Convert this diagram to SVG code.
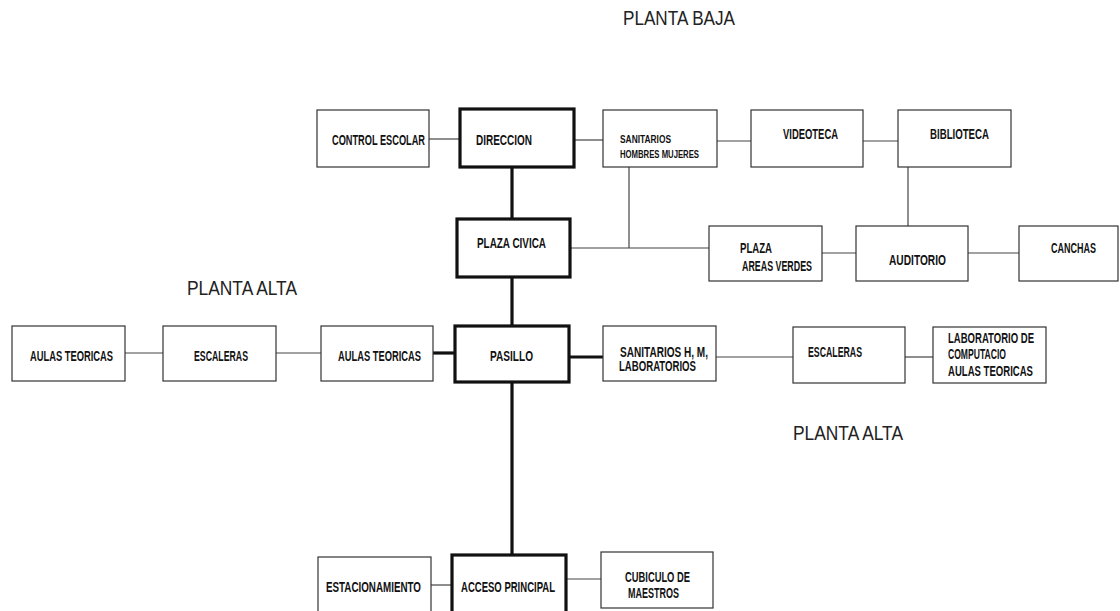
<svg xmlns="http://www.w3.org/2000/svg" width="1120" height="611" viewBox="0 0 1120 611">
<style>
.box{fill:#fff;stroke:#333;stroke-width:1.2}
.bold{fill:#fff;stroke:#111;stroke-width:3.2}
.ln{stroke:#444;stroke-width:1.2;fill:none}
.th{stroke:#111;stroke-width:3.2;fill:none}
.t{font-family:"Liberation Sans",Arial,sans-serif;font-size:14px;font-weight:bold;fill:#111}
.s{font-family:"Liberation Sans",Arial,sans-serif;font-size:10.5px;font-weight:bold;fill:#111}
.h{font-family:"Liberation Sans",Arial,sans-serif;font-size:21px;fill:#222}
</style>
<rect width="1120" height="611" fill="#fff"/>
<g id="titles">
<text class="h" x="623" y="25" textLength="112" lengthAdjust="spacingAndGlyphs">PLANTA BAJA</text>
<text class="h" x="187" y="295" textLength="110" lengthAdjust="spacingAndGlyphs">PLANTA ALTA</text>
<text class="h" x="793" y="440" textLength="110" lengthAdjust="spacingAndGlyphs">PLANTA ALTA</text>
</g>
<g id="connectors">
<line class="ln" x1="429" y1="139" x2="460" y2="139"/>
<line class="ln" x1="574" y1="140" x2="603" y2="140"/>
<line class="ln" x1="717" y1="141" x2="751" y2="141"/>
<line class="ln" x1="863" y1="141" x2="898" y2="141"/>
<line class="th" x1="512" y1="167" x2="512" y2="219"/>
<line class="ln" x1="629" y1="167" x2="629" y2="248"/>
<line class="ln" x1="570" y1="248" x2="709" y2="248"/>
<line class="ln" x1="908" y1="167" x2="908" y2="226"/>
<line class="ln" x1="822" y1="253" x2="856" y2="253"/>
<line class="ln" x1="968" y1="253" x2="1019" y2="253"/>
<line class="th" x1="512" y1="277" x2="512" y2="326"/>
<line class="ln" x1="125" y1="353" x2="163" y2="353"/>
<line class="ln" x1="276" y1="353" x2="321" y2="353"/>
<line class="th" x1="433" y1="353" x2="455" y2="353"/>
<line class="th" x1="569" y1="357" x2="603" y2="357"/>
<line class="ln" x1="716" y1="357" x2="793" y2="357"/>
<line class="ln" x1="905" y1="357" x2="933" y2="357"/>
<line class="th" x1="512" y1="382" x2="512" y2="555"/>
<line class="ln" x1="431" y1="585" x2="452" y2="585"/>
<line class="ln" x1="566" y1="579" x2="601" y2="579"/>
</g>
<g id="control-escolar"><rect class="box" x="317" y="110" width="112" height="57"/><text class="t" x="332" y="145" textLength="93" lengthAdjust="spacingAndGlyphs">CONTROL ESCOLAR</text></g>
<g id="direccion"><rect class="bold" x="460" y="109" width="114" height="58"/><text class="t" x="476" y="145" textLength="56" lengthAdjust="spacingAndGlyphs">DIRECCION</text></g>
<g id="sanitarios"><rect class="box" x="603" y="110" width="114" height="57"/><text class="s" x="620" y="143" textLength="51" lengthAdjust="spacingAndGlyphs">SANITARIOS</text><text class="s" x="620" y="158" textLength="79" lengthAdjust="spacingAndGlyphs">HOMBRES MUJERES</text></g>
<g id="videoteca"><rect class="box" x="751" y="110" width="112" height="57"/><text class="t" x="783" y="139" textLength="55" lengthAdjust="spacingAndGlyphs">VIDEOTECA</text></g>
<g id="biblioteca"><rect class="box" x="898" y="110" width="113" height="57"/><text class="t" x="930" y="139" textLength="59" lengthAdjust="spacingAndGlyphs">BIBLIOTECA</text></g>
<g id="plaza-civica"><rect class="bold" x="457" y="219" width="113" height="58"/><text class="t" x="477" y="248" textLength="69" lengthAdjust="spacingAndGlyphs">PLAZA CIVICA</text></g>
<g id="plaza-areas-verdes"><rect class="box" x="709" y="226" width="113" height="55"/><text class="t" x="740" y="253" textLength="32" lengthAdjust="spacingAndGlyphs">PLAZA</text><text class="t" x="742" y="271" textLength="70" lengthAdjust="spacingAndGlyphs">AREAS VERDES</text></g>
<g id="auditorio"><rect class="box" x="856" y="226" width="112" height="55"/><text class="t" x="889" y="265" textLength="57" lengthAdjust="spacingAndGlyphs">AUDITORIO</text></g>
<g id="canchas"><rect class="box" x="1019" y="226" width="99" height="55"/><text class="t" x="1051" y="253" textLength="45" lengthAdjust="spacingAndGlyphs">CANCHAS</text></g>
<g id="aulas-teoricas-1"><rect class="box" x="12" y="326" width="113" height="55"/><text class="t" x="30" y="361" textLength="83" lengthAdjust="spacingAndGlyphs">AULAS TEORICAS</text></g>
<g id="escaleras-1"><rect class="box" x="163" y="326" width="113" height="55"/><text class="t" x="194" y="361" textLength="54" lengthAdjust="spacingAndGlyphs">ESCALERAS</text></g>
<g id="aulas-teoricas-2"><rect class="box" x="321" y="326" width="112" height="55"/><text class="t" x="338" y="361" textLength="83" lengthAdjust="spacingAndGlyphs">AULAS TEORICAS</text></g>
<g id="pasillo"><rect class="bold" x="455" y="326" width="114" height="56"/><text class="t" x="490" y="361" textLength="43" lengthAdjust="spacingAndGlyphs">PASILLO</text></g>
<g id="sanitarios-hm"><rect class="box" x="603" y="326" width="113" height="55"/><text class="t" x="620" y="357" textLength="88" lengthAdjust="spacingAndGlyphs">SANITARIOS H, M,</text><text class="t" x="619" y="371" textLength="77" lengthAdjust="spacingAndGlyphs">LABORATORIOS</text></g>
<g id="escaleras-2"><rect class="box" x="793" y="327" width="112" height="56"/><text class="t" x="808" y="357" textLength="54" lengthAdjust="spacingAndGlyphs">ESCALERAS</text></g>
<g id="laboratorio"><rect class="box" x="933" y="327" width="113" height="56"/><text class="t" x="948" y="343" textLength="86" lengthAdjust="spacingAndGlyphs">LABORATORIO DE</text><text class="t" x="948" y="359" textLength="58" lengthAdjust="spacingAndGlyphs">COMPUTACIO</text><text class="t" x="948" y="376" textLength="85" lengthAdjust="spacingAndGlyphs">AULAS TEORICAS</text></g>
<g id="estacionamiento"><rect class="box" x="318" y="557" width="113" height="60"/><text class="t" x="326" y="592" textLength="95" lengthAdjust="spacingAndGlyphs">ESTACIONAMIENTO</text></g>
<g id="acceso-principal"><rect class="bold" x="452" y="555" width="114" height="62"/><text class="t" x="461" y="592" textLength="94" lengthAdjust="spacingAndGlyphs">ACCESO PRINCIPAL</text></g>
<g id="cubiculo"><rect class="box" x="601" y="552" width="112" height="56"/><text class="t" x="625" y="582" textLength="65" lengthAdjust="spacingAndGlyphs">CUBICULO DE</text><text class="t" x="628" y="598" textLength="51" lengthAdjust="spacingAndGlyphs">MAESTROS</text></g>
</svg>
